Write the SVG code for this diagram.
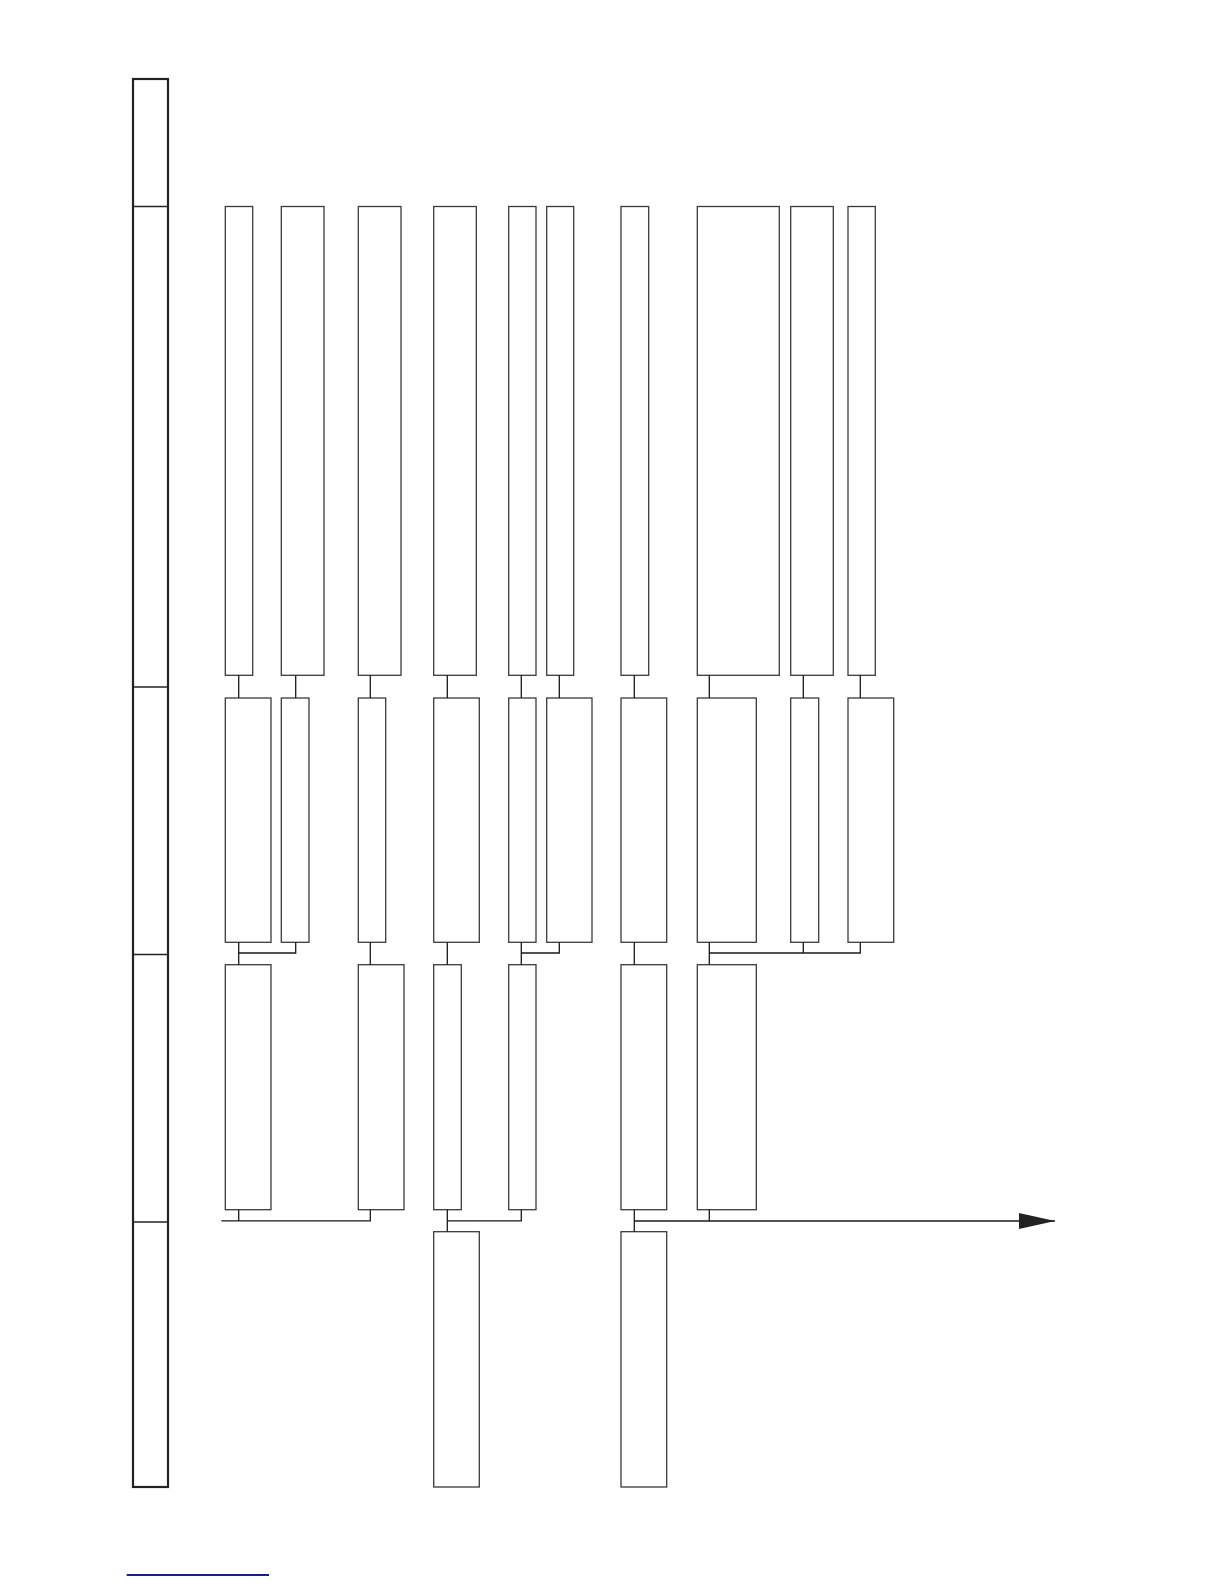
<svg xmlns="http://www.w3.org/2000/svg" width="1224" height="1584" viewBox="0 0 1224 1584">
<style>
.bx{fill:#fff;stroke:#3a3a3a;stroke-width:1.3}
.band{fill:#fff;stroke:#222;stroke-width:2.2}
.div{stroke:#222;stroke-width:1.5}
.cn{fill:none;stroke:#1a1a1a;stroke-width:1.3}
</style>
<defs>
<marker id="ah" viewBox="0 0 36 16" refX="36" refY="8" markerWidth="36" markerHeight="16" markerUnits="userSpaceOnUse" orient="auto">
<path d="M0,0 L36,8 L0,16 Z" fill="#222"/>
</marker>
</defs>
<rect width="1224" height="1584" fill="#fff"/>
<g id="band">
<rect class="band" x="133" y="79" width="35" height="1408"/>
<line class="div" x1="133" y1="206.5" x2="168" y2="206.5"/>
<line class="div" x1="133" y1="687" x2="168" y2="687"/>
<line class="div" x1="133" y1="954.5" x2="168" y2="954.5"/>
<line class="div" x1="133" y1="1222" x2="168" y2="1222"/>
</g>
<g id="row1">
<g id="n1a"><rect class="bx" x="225.3" y="206.5" width="27.4" height="468.8"/></g>
<g id="n2a"><rect class="bx" x="281.3" y="206.5" width="42.7" height="468.8"/></g>
<g id="n3a"><rect class="bx" x="358.3" y="206.5" width="42.7" height="468.8"/></g>
<g id="n4a"><rect class="bx" x="433.7" y="206.5" width="42.6" height="468.8"/></g>
<g id="n5a"><rect class="bx" x="508.7" y="206.5" width="27.3" height="468.8"/></g>
<g id="n6a"><rect class="bx" x="546.7" y="206.5" width="27" height="468.8"/></g>
<g id="n7a"><rect class="bx" x="621" y="206.5" width="27.7" height="468.8"/></g>
<g id="n8a"><rect class="bx" x="697.3" y="206.5" width="82" height="468.8"/></g>
<g id="n9a"><rect class="bx" x="790.7" y="206.5" width="42.6" height="468.8"/></g>
<g id="n10a"><rect class="bx" x="848" y="206.5" width="27.3" height="468.8"/></g>
</g>
<g id="row2">
<g id="n1b"><rect class="bx" x="225.3" y="698" width="45.7" height="244.3"/></g>
<g id="n2b"><rect class="bx" x="281.3" y="698" width="27.7" height="244.3"/></g>
<g id="n3b"><rect class="bx" x="358.3" y="698" width="27.4" height="244.3"/></g>
<g id="n4b"><rect class="bx" x="433.7" y="698" width="45.6" height="244.3"/></g>
<g id="n5b"><rect class="bx" x="508.7" y="698" width="27.3" height="244.3"/></g>
<g id="n6b"><rect class="bx" x="546.7" y="698" width="45.3" height="244.3"/></g>
<g id="n7b"><rect class="bx" x="621" y="698" width="45.7" height="244.3"/></g>
<g id="n8b"><rect class="bx" x="697.3" y="698" width="59" height="244.3"/></g>
<g id="n9b"><rect class="bx" x="790.7" y="698" width="28" height="244.3"/></g>
<g id="n10b"><rect class="bx" x="848" y="698" width="45.7" height="244.3"/></g>
</g>
<g id="row3">
<g id="n1c"><rect class="bx" x="225.3" y="964.7" width="45.7" height="245"/></g>
<g id="n3c"><rect class="bx" x="358.3" y="964.7" width="45.7" height="245"/></g>
<g id="n4c"><rect class="bx" x="433.7" y="964.7" width="27.6" height="245"/></g>
<g id="n5c"><rect class="bx" x="508.7" y="964.7" width="27.3" height="245"/></g>
<g id="n7c"><rect class="bx" x="621" y="964.7" width="45.7" height="245"/></g>
<g id="n8c"><rect class="bx" x="697.3" y="964.7" width="59" height="245"/></g>
</g>
<g id="row4">
<g id="n4d"><rect class="bx" x="433.7" y="1231.7" width="45.6" height="255.3"/></g>
<g id="n7d"><rect class="bx" x="621" y="1231.7" width="45.7" height="255.3"/></g>
</g>
<g id="connectors">
<path class="cn" d="M238.7,675.3V698 M295.7,675.3V698 M370.3,675.3V698 M447.3,675.3V698 M521.3,675.3V698 M559.3,675.3V698 M634.3,675.3V698 M709.3,675.3V698 M803.3,675.3V698 M860.3,675.3V698"/>
<path class="cn" d="M238.7,942.3V964.7 M238.7,953H295.7V942.3 M370.3,942.3V964.7 M447.3,942.3V964.7 M521.3,942.3V964.7 M521.3,953H559.3V942.3 M634.3,942.3V964.7 M709.3,942.3V964.7 M709.3,953H860.3V942.3 M803.3,942.3V953"/>
<path class="cn" d="M238.7,1209.7V1220.8 M221.3,1220.8H370.3V1209.7 M447.3,1209.7V1231.7 M447.3,1220.8H521.3V1209.7 M634.3,1209.7V1231.7 M709.3,1209.7V1221"/>
<path class="cn" d="M634.3,1221H1055" marker-end="url(#ah)"/>
</g>
<line x1="126.7" y1="1575" x2="269" y2="1575" stroke="#1c1c8a" stroke-width="2"/>
</svg>
